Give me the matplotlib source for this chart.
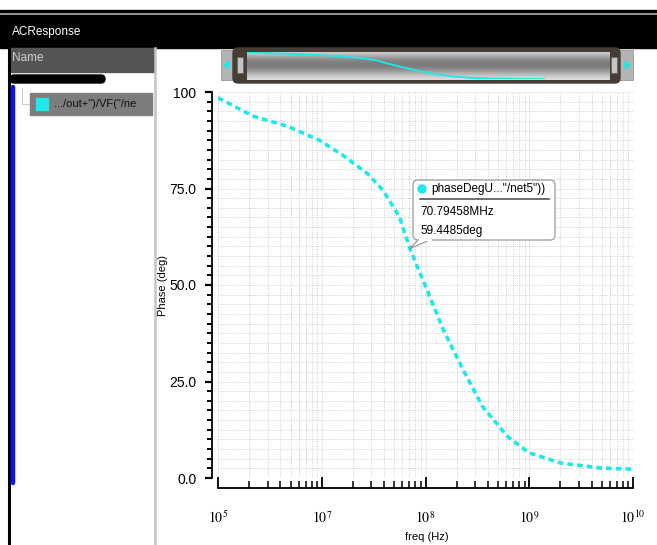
import numpy as np
import matplotlib
matplotlib.use('Agg')
import matplotlib.pyplot as plt
from matplotlib import ticker
from matplotlib.patches import Rectangle, FancyBboxPatch, Polygon, Circle
from matplotlib.lines import Line2D
from matplotlib.transforms import Affine2D

plt.rcParams['font.family'] = ['Liberation Sans', 'DejaVu Sans']
plt.rcParams['mathtext.fontset'] = 'stix'

# phase response (freq in Hz, phase in deg)
freq = [1e6, 2.2e6, 4.7e6, 9.5e6, 1.6e7, 2.75e7, 3.9e7, 5.6e7, 7.08e7,
        1.0e8, 1.48e8, 2.3e8, 3.55e8, 6.2e8, 1.0e9, 2.0e9, 4.8e9, 1.0e10]
phase = [98.5, 93.7, 91.1, 87.5, 83.6, 78.9, 74.5, 67.7, 59.4,
         49.7, 38.5, 28.1, 18.5, 10.7, 6.5, 3.9, 2.6, 2.3]

marker_freq = 70.79458e6
marker_phase = 59.4485
marker_name = 'phaseDegU..."/net5"))'
trace_name = '.../out+")/VF("/ne'

xticks = [1e6, 1e7, 1e8, 1e9, 1e10]
xtick_labels = ['$10^5$', '$10^7$', '$10^8$', '$10^9$', '$10^{10}$']
yticks = [0, 25, 50, 75, 100]
ytick_labels = ['0.0', '25.0', '50.0', '75.0', '100']

W, H = 657, 545
cyan = '#1fe8ea'

fig = plt.figure(figsize=(W / 100, H / 100), dpi=100)
# image pixel coords (origin top-left) -> figure
tpx = Affine2D().scale(1 / W, -1 / H).translate(0, 1) + fig.transFigure


def rect(x0, y0, x1, y1, **kw):
    fig.patches.append(Rectangle((x0, y0), x1 - x0, y1 - y0, transform=tpx, **kw))


def rbox(x0, y0, x1, y1, r, **kw):
    fig.patches.append(FancyBboxPatch((x0, y0), x1 - x0, y1 - y0,
                                      boxstyle='round,pad=0,rounding_size=%g' % r,
                                      transform=tpx, **kw))


def line(xs, ys, **kw):
    fig.lines.append(Line2D(xs, ys, transform=tpx, **kw))


# window chrome
rect(0, 10, W, 48, color='black', zorder=-3)
line([0, W], [13.5, 13.5], color='#b0b0b0', lw=1.2, zorder=-2)
fig.text(12, 32, 'ACResponse', transform=tpx, color='white', fontsize=8.5,
         va='center', ha='left')
rect(10, 48, 154, 72, color='#555555', zorder=-3)
fig.text(12, 58, 'Name', transform=tpx, color='#cfcfcf', fontsize=8.5, va='center')
line([8.5, 8.5], [48, H], color='black', lw=2.2, zorder=-2)
line([154.5, 154.5], [48, H], color='#c4c4c4', lw=1.8, zorder=-2)
rbox(10, 75, 105, 83, 4, color='black', zorder=-2)
line([13, 13], [87, 483], color='#0a14f0', lw=3.2, solid_capstyle='round', zorder=-2)
line([22, 22, 30], [88, 104, 104], color='#cccccc', lw=0.8, zorder=-2)
rect(30, 93, 152, 115, color='#7d7d7d', zorder=-2)
rect(36, 98, 48, 110, color=cyan, zorder=-1)
fig.text(54, 104, trace_name, transform=tpx, color='#111111', fontsize=8, va='center')

# overview scroll bar
rect(221, 50, 633, 80, facecolor='#b4b4b4', edgecolor='#9a9a9a', lw=0.6, zorder=-3)
rbox(233, 48, 620, 83, 5, color='#463e36', zorder=-2)
rect(237, 57, 243, 73, facecolor='#c4c4c4', edgecolor='#666666', lw=0.6, zorder=-1)
rect(611, 57, 617, 73, facecolor='#c4c4c4', edgecolor='#666666', lw=0.6, zorder=-1)
fig.patches.append(Polygon([(224, 65), (229, 61), (229, 69)], color=cyan, transform=tpx))
fig.patches.append(Polygon([(630, 65), (625, 61), (625, 69)], color=cyan, transform=tpx))

axg = fig.add_axes([247 / W, 1 - 80 / H, (610 - 247) / W, 28 / H])
grad = np.array([0.8, 0.66, 0.56, 0.5, 0.48, 0.5, 0.58, 0.68, 0.78, 0.86])[:, None]
axg.imshow(grad, aspect='auto', cmap='gray', vmin=0, vmax=1, interpolation='bicubic')
axg.axis('off')

axo = fig.add_axes([248 / W, 1 - 79 / H, (545 - 248) / W, 27 / H])
axo.plot(freq, phase, color=cyan, lw=1.3)
axo.set_xscale('log')
axo.set_xlim(1e6, 1e10)
axo.set_ylim(min(phase), max(phase))
axo.axis('off')
axo.patch.set_visible(False)

# main plot
ax = fig.add_axes([218 / W, 1 - 478 / H, 415 / W, 386 / H])
ax.plot(freq, phase, color=cyan, lw=2.6, dashes=(1.6, 1.1))
ax.set_xscale('log')
ax.set_xlim(1e6, 1e10)
ax.set_ylim(0, 100)
ax.set_xticks(xticks)
ax.set_xticklabels(xtick_labels, fontsize=12)
ax.xaxis.set_minor_locator(ticker.LogLocator(base=10, subs=np.arange(2, 10)))
ax.xaxis.set_minor_formatter(ticker.NullFormatter())
ax.set_yticks(yticks)
ax.set_yticklabels(ytick_labels, fontsize=9, family='Liberation Serif')
ax.yaxis.set_minor_locator(ticker.MultipleLocator(2.5))
ax.grid(True, which='both', ls=(0, (1, 1.5)), color='#cccccc', lw=0.7)

for s in ['top', 'right']:
    ax.spines[s].set_visible(False)
ax.spines['left'].set_position(('outward', 4.5))
ax.spines['bottom'].set_position(('outward', 7))
ax.spines['left'].set_linewidth(1.3)
ax.spines['bottom'].set_linewidth(1.3)
ax.tick_params(axis='y', which='major', direction='out', length=5, width=1.6, pad=6)
ax.tick_params(axis='y', which='minor', direction='out', length=3.5, width=1.4)
ax.tick_params(axis='x', which='major', direction='in', length=8, width=1.3, pad=16)
ax.tick_params(axis='x', which='minor', direction='in', length=5, width=1.1)

fig.text(163, 285, 'Phase (deg)', transform=tpx, rotation=90, fontsize=8,
         ha='center', va='center')
fig.text(427, 537, 'freq (Hz)', transform=tpx, fontsize=8, ha='center', va='center')

# marker callout
mx, my = ax.transData.transform((marker_freq, marker_phase))
mx, my = mx * W / fig.bbox.width, H - my * H / fig.bbox.height
rbox(413, 180, 555, 240, 5, facecolor='white', edgecolor='#9a9a9a', lw=0.9, zorder=5)
fig.patches.append(Polygon([(419, 239), (mx, my), (432, 239)], closed=False,
                           facecolor='white', edgecolor='#9a9a9a', lw=0.9,
                           transform=tpx, zorder=6))
line([420, 431], [239.5, 239.5], color='white', lw=1.5, zorder=7)
fig.patches.append(Circle((422, 189), 4, color=cyan, transform=tpx, zorder=7))
fig.text(431, 189, marker_name, transform=tpx, fontsize=8.5, va='center', zorder=7)
line([420, 549], [198.5, 198.5], color='#555555', lw=1.2, zorder=7)
fig.text(420, 212, '%.5fMHz' % (marker_freq / 1e6), transform=tpx, fontsize=8.5,
         va='center', zorder=7)
fig.text(420, 231, '%.4fdeg' % marker_phase, transform=tpx, fontsize=8.5,
         va='center', zorder=7)

fig.savefig('out.png', dpi=100)
